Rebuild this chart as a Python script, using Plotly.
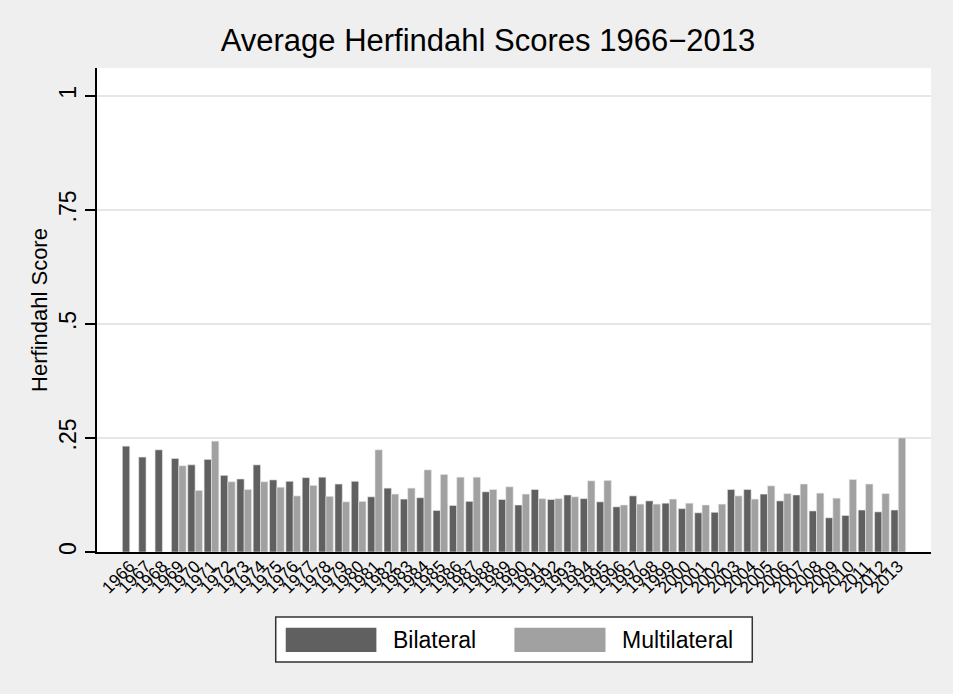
import plotly.graph_objects as go

years = [str(y) for y in range(1966, 2014)]
bilateral = [0.232, 0.208, 0.224, 0.205, 0.191, 0.203, 0.168, 0.160, 0.191, 0.158,
             0.155, 0.163, 0.164, 0.149, 0.155, 0.121, 0.140, 0.116, 0.119, 0.091,
             0.102, 0.111, 0.132, 0.115, 0.103, 0.137, 0.115, 0.125, 0.117, 0.110,
             0.099, 0.123, 0.112, 0.107, 0.095, 0.086, 0.087, 0.137, 0.137, 0.127,
             0.112, 0.125, 0.090, 0.075, 0.080, 0.092, 0.088, 0.092]
multilateral = [None, None, None, 0.189, 0.135, 0.243, 0.154, 0.137, 0.154, 0.142,
                0.123, 0.146, 0.122, 0.110, 0.111, 0.224, 0.127, 0.140, 0.180, 0.170,
                0.164, 0.164, 0.137, 0.143, 0.127, 0.117, 0.117, 0.121, 0.156, 0.157,
                0.103, 0.105, 0.105, 0.116, 0.107, 0.103, 0.105, 0.123, 0.116, 0.145,
                0.128, 0.149, 0.129, 0.118, 0.159, 0.149, 0.128, 0.250]
yticks = [0, 0.25, 0.5, 0.75, 1]
ytick_labels = ["0", ".25", ".5", ".75", "1"]

dark = "#606060"
light = "#a1a1a1"
font = "Liberation Sans, Arial, sans-serif"

fig = go.Figure()
fig.add_trace(go.Bar(x=years, y=bilateral, name="Bilateral",
                     marker=dict(color=dark, line=dict(color="#e8e8e8", width=0.6))))
fig.add_trace(go.Bar(x=years, y=multilateral, name="Multilateral",
                     marker=dict(color=light, line=dict(color="#e8e8e8", width=0.6))))

fig.update_layout(
    width=953, height=694,
    barmode="group", bargap=0.1, bargroupgap=0,
    paper_bgcolor="#efefef", plot_bgcolor="white",
    margin=dict(l=97, r=22, t=68, b=142),
    showlegend=False,
    font=dict(family=font, color="black"),
    title=dict(text="Average Herfindahl Scores 1966\u22122013", xref="container", x=0.512,
               xanchor="center", y=0.942, yanchor="middle", font=dict(size=31)),
)
fig.update_xaxes(
    range=[-2, 49], tickmode="array", tickvals=years, tickangle=-45, tickfont=dict(size=17),
    ticklabelstandoff=-4,
    showline=True, linecolor="black", linewidth=1.5, ticks="", showgrid=False,
)
fig.update_yaxes(
    range=[0, 1.061], tickvals=yticks, ticktext=ytick_labels, tickangle=-90,
    tickfont=dict(size=23), ticks="outside", ticklen=10, tickcolor="black", tickwidth=1.5,
    showline=True, linecolor="black", linewidth=1.5, showgrid=True, gridcolor="#e6e6e6",
    gridwidth=1.5, zeroline=False,
    title=dict(text="Herfindahl Score", font=dict(size=22), standoff=1),
)

# legend drawn as a box below the plot, Stata style
fig.add_shape(type="rect", xref="paper", yref="paper", x0=0.2143, x1=0.7857, y0=-0.2274, y1=-0.1344,
              fillcolor="white", line=dict(color="#333333", width=1.5))
fig.add_shape(type="rect", xref="paper", yref="paper", x0=0.2263, x1=0.3350, y0=-0.2067, y1=-0.1563,
              fillcolor=dark, line=dict(width=0))
fig.add_shape(type="rect", xref="paper", yref="paper", x0=0.5005, x1=0.6097, y0=-0.2067, y1=-0.1563,
              fillcolor=light, line=dict(width=0))
fig.add_annotation(text="Bilateral", xref="paper", yref="paper", x=0.3526, y=-0.1815,
                   xanchor="left", yanchor="middle", showarrow=False, font=dict(size=23))
fig.add_annotation(text="Multilateral", xref="paper", yref="paper", x=0.6273, y=-0.1815,
                   xanchor="left", yanchor="middle", showarrow=False, font=dict(size=23))

fig.write_html("out.html", config={"displayModeBar": False},
               post_script="document.body.style.margin='0';")
